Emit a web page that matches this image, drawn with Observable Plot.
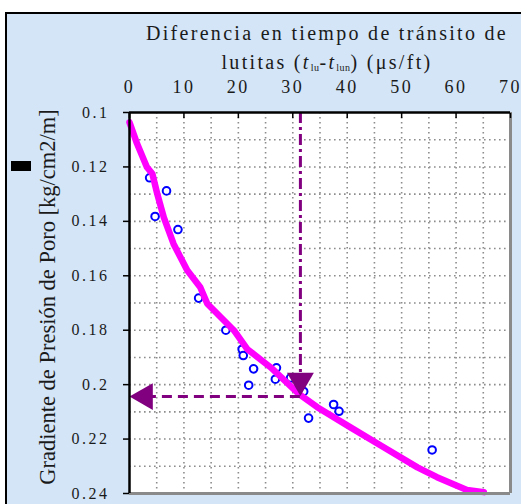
<!DOCTYPE html>
<html>
<head>
<meta charset="utf-8">
<script src="https://cdn.jsdelivr.net/npm/d3@7"></script>
<script src="https://cdn.jsdelivr.net/npm/@observablehq/plot@0.6"></script>
<style>
  html, body { margin: 0; padding: 0; background: #ffffff; width: 521px; height: 504px; overflow: hidden; }
  #wrap { position: relative; width: 521px; height: 504px; overflow: hidden; font-family: "Liberation Serif", "DejaVu Serif", serif; }
  #panel { position: absolute; left: 5px; top: 12px; width: 600px; height: 600px; background: #d3e5f7; border-left: 2px solid #000; border-top: 2px solid #000; }
  #blk { position: absolute; left: 11px; top: 161px; width: 20px; height: 10px; background: #000; }
  #title { position: absolute; left: 124px; width: 406px; top: 19px; text-align: center; font-size: 20px; line-height: 29px; color: #1a1a1a; letter-spacing: 2.3px; }
  #title sub { font-size: 10px; vertical-align: -2px; letter-spacing: 0.5px; }
  #ylab { position: absolute; left: 48px; top: 297px; transform: translate(-50%, -50%) rotate(-90deg); white-space: nowrap; font-size: 22.5px; color: #1a1a1a; letter-spacing: 0px; }
  #chart { position: absolute; left: 0; top: 0; }
</style>
</head>
<body>
<div id="wrap">
  <div id="panel"></div>
  <div id="blk"></div>
  <div id="title">Diferencia en tiempo de tránsito de<br>lutitas (<i>t</i><sub>lu</sub>-<i>t</i><sub>lun</sub>) (μs/ft)</div>
  <div id="ylab">Gradiente de Presión de Poro [kg/cm2/m]</div>
  <div id="chart"></div>
</div>
<script>
// Axis domains and ticks
const xDomain = [0, 70];
const yDomain = [0.1, 0.24];
const xTicks = [0, 10, 20, 30, 40, 50, 60, 70];
const yTicks = [0.1, 0.12, 0.14, 0.16, 0.18, 0.2, 0.22, 0.24];
const xGrid = [5, 10, 15, 20, 25, 30, 35, 40, 45, 50, 55, 60, 65];
const yGrid = [0.11, 0.12, 0.13, 0.14, 0.15, 0.16, 0.17, 0.18, 0.19, 0.2, 0.21, 0.22, 0.23];

// Measured points (tlu - tlun, gradient)
const ptX = [3.7, 6.8, 4.7, 8.9, 12.7, 17.7, 20.7, 20.9, 22.8, 21.9, 27.0, 26.8, 29.6, 32.0, 37.5, 38.5, 32.9, 55.6];
const ptY = [0.124, 0.1288, 0.1382, 0.143, 0.1682, 0.180, 0.187, 0.1893, 0.1942, 0.2002, 0.1938, 0.198, 0.1975, 0.2025, 0.2073, 0.2098, 0.2123, 0.224];

// Trend curve
const curveX = [0, 1.4, 3.2, 4.2, 5.1, 6.3, 8.1, 10.6, 13.0, 14.3, 19.2, 21.6, 25.9, 31.1, 34.5, 40.6, 46.7, 52.9, 56.5, 62.0, 65.1];
const curveY = [0.1036, 0.1115, 0.1201, 0.1225, 0.1299, 0.1385, 0.1483, 0.158, 0.1642, 0.1703, 0.1801, 0.1869, 0.1936, 0.2034, 0.2083, 0.2157, 0.223, 0.2304, 0.234, 0.2387, 0.2395];

// Reading guide
const readX = [31.4];
const readY = [0.2044];
const downArrowY = [0.1985];
const leftArrowX = [2.85];

const pts = ptX.map((x, i) => ({x, y: ptY[i]}));
const curve = curveX.map((x, i) => ({x, y: curveY[i]}));

const plot = Plot.plot({
  width: 521,
  height: 504,
  marginLeft: 129,
  marginRight: 11,
  marginTop: 112,
  marginBottom: 11,
  style: { background: "transparent", fontFamily: "'Liberation Serif', 'DejaVu Serif', serif", overflow: "visible" },
  x: { domain: xDomain },
  y: { domain: yDomain, reverse: true },
  marks: [
    Plot.frame({ fill: "white", stroke: "none" }),
    Plot.ruleX(xGrid, { stroke: "#8c8c8c", strokeWidth: 1.6, strokeDasharray: "1.6,3.4" }),
    Plot.ruleY(yGrid, { stroke: "#8c8c8c", strokeWidth: 1.6, strokeDasharray: "1.6,3.4" }),
    Plot.dot(pts, { x: "x", y: "y", r: 3.8, stroke: "#0000ff", strokeWidth: 2, fill: "white" }),
    Plot.line(curve, { x: "x", y: "y", stroke: "#ff00ff", strokeWidth: 6.5, strokeLinejoin: "round", strokeLinecap: "round" }),
    Plot.ruleX(readX, { y1: yDomain[0], y2: downArrowY[0], stroke: "#800080", strokeWidth: 3, strokeDasharray: "11,4,3,4" }),
    Plot.ruleY(readY, { x1: readX[0], x2: leftArrowX[0], stroke: "#800080", strokeWidth: 3, strokeDasharray: "10,6" }),
    Plot.dot(readX, { x: d => d, y: downArrowY, symbol: "triangle", r: 10, fill: "#800080", stroke: "none", rotate: 180 }),
    Plot.dot(readY, { x: leftArrowX, y: d => d, symbol: "triangle", r: 10, fill: "#800080", stroke: "none", rotate: -90 }),
    Plot.ruleX([xDomain[1]], { stroke: "#8a8a8a", strokeWidth: 3 }),
    Plot.ruleY([yDomain[1]], { stroke: "#8a8a8a", strokeWidth: 3 }),
    Plot.ruleX([xDomain[0]], { stroke: "#000", strokeWidth: 2.5 }),
    Plot.ruleY([yDomain[0]], { stroke: "#000", strokeWidth: 2.5 }),
    Plot.axisX({ anchor: "top", ticks: xTicks, tickSize: -5, tickPadding: 25, tickFormat: d => String(d), fontSize: 18, stroke: "#000", strokeWidth: 1.5, label: null, color: "#1a1a1a" }),
    Plot.axisY({ anchor: "left", ticks: yTicks, tickSize: 6, tickPadding: 14, tickFormat: d => String(+d.toFixed(2)), fontSize: 16, stroke: "#000", strokeWidth: 1.5, label: null, color: "#1a1a1a" })
  ]
});
document.getElementById("chart").appendChild(plot);
// letter spacing for the stretched tick labels
d3.select(plot).selectAll("[aria-label='x-axis tick label'] text").style("letter-spacing", "2.5px");
d3.select(plot).selectAll("[aria-label='y-axis tick label'] text").style("letter-spacing", "2.5px");
</script>
</body>
</html>
